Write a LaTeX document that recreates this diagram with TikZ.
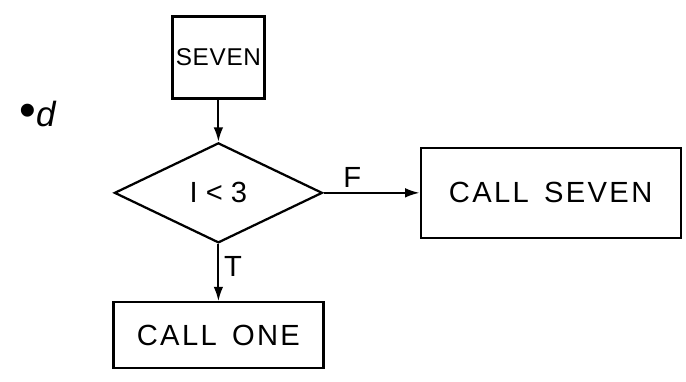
\documentclass[tikz,border=0pt]{standalone}
\usepackage{fontspec}
\setmainfont{Liberation Sans}
\usetikzlibrary{positioning,arrows.meta,shapes.geometric}
\tikzset{
  caja/.style={draw=black,line width=1.6pt,align=center,inner sep=4pt,fill=white},
  flecha/.style={-{Latex[length=3.6mm,width=2.4mm]},line width=1.4pt},
  etiqueta/.style={font=\huge},
}
\newcommand{\espaciado}{\addfontfeature{LetterSpace=8}}
\begin{document}
\begin{tikzpicture}[node distance=1cm,font=\huge\espaciado,
  bloque/.style={caja,minimum width=2.3cm,minimum height=2.05cm,inner sep=0pt,font=\LARGE\addfontfeature{LetterSpace=3}},
  decision/.style={caja,diamond,minimum width=5.2cm,minimum height=2.5cm,inner sep=0pt},
  llamada/.style={caja,minimum width=6.5cm,minimum height=2.25cm}]
  \useasboundingbox (0,0) rectangle (17.15,-9.525);
  \node[bloque] (seven) at (5.46,-1.44) {SEVEN};
  \node[font=\Huge] (marca) at (0.95,-2.85) {{\fontsize{34}{34}\selectfont\textbullet}\textit{d}};
  \node[decision,below=1.05cm of seven] (test) {I\;<\;3};
  \node[llamada,right=2.4cm of test] (callseven) {CALL\, SEVEN};
  \node[caja,minimum width=5.25cm,minimum height=1.65cm,below=1.43cm of test] (callone) {CALL\, ONE};
  \draw[flecha] (seven) -- (test);
  \draw[flecha] (test) -- node[etiqueta,above,pos=0.3]{F} (callseven);
  \draw[flecha] (test) -- node[etiqueta,right,pos=0.4]{T} (callone);
\end{tikzpicture}
\end{document}
